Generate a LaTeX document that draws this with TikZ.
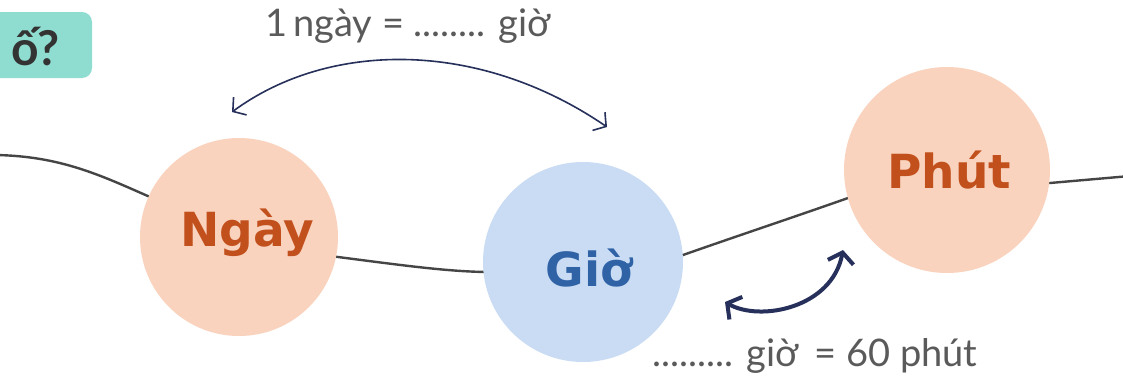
\documentclass[tikz,border=0pt]{standalone}
\usepackage{fontspec}
\setmainfont{Lato}
\newfontfamily\wordfont{DejaVu Sans}
\usetikzlibrary{arrows.meta}
\definecolor{peach}{HTML}{F9D3BE}
\definecolor{skyb}{HTML}{C9DCF4}
\definecolor{rust}{HTML}{C2501C}
\definecolor{gblue}{HTML}{2F63A6}
\definecolor{navy}{HTML}{26305A}
\definecolor{teal1}{HTML}{8FDCD1}
\definecolor{wavec}{HTML}{454545}
\definecolor{txtg}{HTML}{5A5A5A}
\tikzset{
  unit/.style={circle,minimum size=#1,inner sep=0pt},
  bigword/.style={font=\wordfont\fontsize{47}{50}\selectfont\bfseries},
  wave/.style={draw=wavec,line width=2.4pt},
  thinarr/.style={draw=navy,line width=1.6pt,{Straight Barb[length=9pt,width=22pt]}-{Straight Barb[length=9pt,width=22pt]}},
  thickarr/.style={draw=navy,line width=4pt,{Straight Barb[length=10pt,width=26pt]}-{Straight Barb[length=10pt,width=26pt]}},
  eqtext/.style={text=txtg,font=\fontsize{38}{40}\selectfont}
}
\begin{document}
\begin{tikzpicture}[x=1pt,y=-1pt]
\useasboundingbox (0,0) rectangle (1123,388);
\clip (0,0) rectangle (1123,388);
\fill[white] (0,0) rectangle (1123,388);
% teal label box
\fill[teal1,rounded corners=10pt] (-30,12) rectangle (92,78);
\node[anchor=base east,text=black!80,font=\fontsize{48}{50}\selectfont\bfseries,inner sep=0pt] (tag) at (60,65) {ố?};
% wavy line
\draw[wave] (-5,155) .. controls (60,156) and (100,175) .. (150,197)
  .. controls (200,220) and (280,250) .. (338,257)
  .. controls (400,265) and (450,272) .. (490,272)
  .. controls (560,272) and (640,270) .. (683,255)
  .. controls (740,235) and (800,215) .. (848,198)
  .. controls (900,182) and (1000,183) .. (1050,183) -- (1130,176);
% circles
\node[unit=198pt,fill=peach] (ngay) at (239,237) {};
\node[unit=200pt,fill=skyb] (gio) at (583,262) {};
\node[unit=206pt,fill=peach] (phut) at (947,170) {};
\node[bigword,text=rust] at (247,233) {Ngày};
\node[bigword,text=gblue] at (589,268) {Giờ};
\node[bigword,text=rust] at (949,170) {Phút};
% arrows
\coordinate (a1) at (232,112);
\coordinate (a2) at (607,127);
\draw[thinarr] (a1) .. controls (330,40) and (480,40) .. (a2);
\coordinate (b1) at (725,302);
\coordinate (b2) at (843,250);
\draw[thickarr] (b1) .. controls (760,322) and (832,308) .. (b2);
% texts
\node[eqtext] (top) at (408,26) {1\,ngày = ........ giờ};
\node[eqtext] (bot) at (815,356) {......... giờ \,= 60 phút};
\end{tikzpicture}
\end{document}
